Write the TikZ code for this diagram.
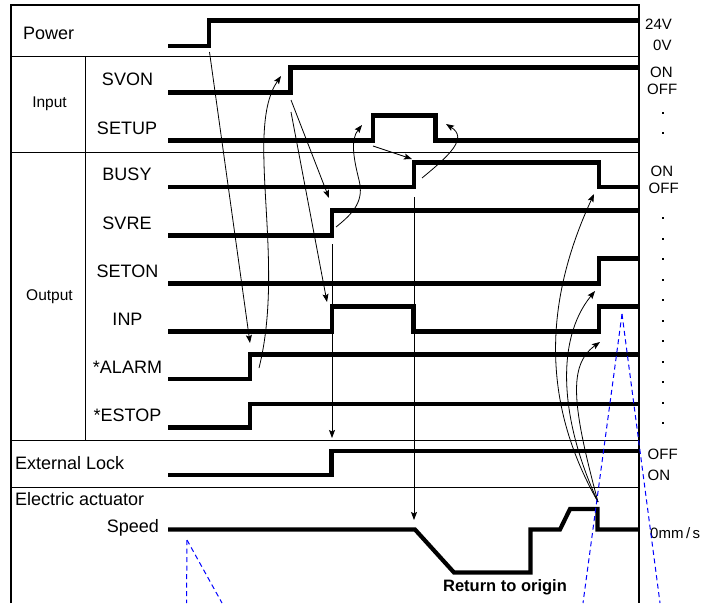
\documentclass[tikz,border=0pt]{standalone}
\usepackage{fontspec}
\setmainfont{Liberation Sans}
\usetikzlibrary{arrows.meta}
\tikzset{
  sig/.style={line width=4.2pt, line join=miter},
  frm/.style={line width=1pt},
  frmo/.style={line width=1.6pt},
  arr/.style={line width=0.8pt, -{Stealth[length=8pt,width=6pt,inset=1.5pt]}},
  thin/.style={line width=0.8pt},
  bluedash/.style={blue, line width=1pt, dash pattern=on 5pt off 3.5pt},
  lbl/.style={inner sep=0pt, font=\fontsize{18}{20}\selectfont},
  grp/.style={inner sep=0pt, font=\fontsize{15.5}{17}\selectfont},
  rlbl/.style={inner sep=0pt, anchor=west, font=\fontsize{15}{17}\selectfont},
  dotmark/.style={fill=black}
}
\begin{document}
\begin{tikzpicture}[x=1pt,y=-1pt]
\useasboundingbox (0,0) rectangle (714,603);
\fill[white] (0,0) rectangle (714,603);

% ---- signals ----
\draw[sig] (168,46) -- (209,46) -- (209,20.5) -- (639,20.5);
\draw[sig] (168,92.5) -- (290.5,92.5) -- (290.5,67.5) -- (639,67.5);
\draw[sig] (168,140.5) -- (373,140.5) -- (373,115.5) -- (435.5,115.5) -- (435.5,140.5) -- (639,140.5);
\draw[sig] (168,187) -- (414,187) -- (414,162.5) -- (599,162.5) -- (599,187) -- (639,187);
\draw[sig] (168,235.5) -- (332,235.5) -- (332,210.5) -- (639,210.5);
\draw[sig] (168,283.5) -- (599,283.5) -- (599,258.5) -- (639,258.5);
\draw[sig] (168,331.5) -- (332,331.5) -- (332,306.5) -- (413.5,306.5) -- (413.5,331.5) -- (599,331.5) -- (599,306.5) -- (639,306.5);
\draw[sig] (168,379) -- (250,379) -- (250,354.5) -- (639,354.5);
\draw[sig] (168,427.5) -- (250,427.5) -- (250,404) -- (639,404);
\draw[sig] (168,475) -- (331.5,475) -- (331.5,451) -- (639,451);
\draw[sig] (168,529.5) -- (415,529.5) -- (454,572.5) -- (530.5,572.5) -- (530.5,529.5) -- (560,529.5) -- (570,509) -- (597.5,509) -- (597.5,529.5) -- (639,529.5);

% ---- frame ----
\draw[frmo] (11,603) -- (11,5) -- (639,5);
\draw[line width=2pt] (639,4.2) -- (639,603);
\draw[frm] (11,56) -- (639,56);
\draw[frm] (11,152) -- (639,152);
\draw[frm] (11,440) -- (639,440);
\draw[frm] (11,487) -- (639,487);
\draw[frm] (85,56) -- (85,440);

% ---- left labels ----
\node[lbl, anchor=west] (power) at (23,33.5) {Power};
\node[grp] (input) at (49.5,104) {Input};
\node[grp] (output) at (49.5,297) {Output};
\node[lbl] (svon) at (127.5,79.5) {SVON};
\node[lbl] (setup) at (127,128) {SETUP};
\node[lbl] (busy) at (127,174) {BUSY};
\node[lbl] (svre) at (127,223) {SVRE};
\node[lbl] (seton) at (127.5,271) {SETON};
\node[lbl] (inp) at (127.5,319) {INP};
\node[lbl] (alarm) at (127.5,367) {*ALARM};
\node[lbl] (estop) at (127.5,415) {*ESTOP};
\node[lbl, anchor=west] (extlock) at (15,463.5) {External Lock};
\node[lbl, anchor=west] (elact) at (15,499) {Electric actuator};
\node[lbl, anchor=east] (speed) at (159,528) {Speed};
\node[inner sep=0pt, font=\fontsize{16.5}{18}\selectfont\bfseries] (rto) at (505,587) {Return to origin};

% ---- right labels ----
\node[rlbl] (v24) at (645,24) {24V};
\node[rlbl] (v0) at (653,45) {0V};
\node[rlbl] (on1) at (650,72) {ON};
\node[rlbl] (off1) at (647,89.5) {OFF};
\node[rlbl] (on2) at (650.5,171) {ON};
\node[rlbl] (off2) at (648.5,188.5) {OFF};
\node[rlbl] (off3) at (647.5,454) {OFF};
\node[rlbl] (on3) at (647.5,475) {ON};
\node[rlbl] (mms) at (650,533) {0mm\,/\,s};
\foreach \yy in {113,133} {\fill[dotmark] (662,\yy-1) rectangle (664,\yy+1);}
\foreach \k in {0,...,10} {\fill[dotmark] (662,218.3+20.5*\k-1.1) rectangle (664.2,218.3+20.5*\k+1.1);}

% ---- connector points ----
\coordinate (pw0) at (209.5,52);   \coordinate (al1) at (250,343);
\coordinate (al0) at (259,368);    \coordinate (sv1) at (281,76);
\coordinate (sva) at (291,100);    \coordinate (sre1) at (329,198);
\coordinate (svb) at (291,112);    \coordinate (inp1) at (327,302);
\coordinate (st0) at (373,146);    \coordinate (bs1) at (412,159);
\coordinate (sre0) at (336,227);   \coordinate (st1) at (362,125);
\coordinate (bs0) at (422,178);    \coordinate (st2) at (446,124);
\coordinate (sre2) at (332,244);   \coordinate (el1) at (332,438);
\coordinate (bs2) at (414,197);    \coordinate (sp1) at (414,520);
\coordinate (fan) at (598,502);
\coordinate (bsf) at (594,194);    \coordinate (sto) at (595,291);
\coordinate (inpr) at (600,342);

% ---- arrows ----
\draw[arr] (pw0) -- (al1);
\draw[arr] (al0) .. controls (286,260) and (244,130) .. (sv1);
\draw[arr] (sva) -- (sre1);
\draw[arr] (svb) -- (inp1);
\draw[arr] (st0) -- (bs1);
\draw[arr] (sre0) .. controls (355,212) and (364,200) .. (359,180) .. controls (354,160) and (350,140) .. (st1);
\draw[arr] (bs0) .. controls (450,155) and (468,138) .. (st2);
\draw[arr] (sre2) -- (el1);
\draw[arr] (bs2) -- (sp1);
\draw[arr] (fan) .. controls (540,400) and (545,300) .. (bsf);
\draw[arr] (fan) .. controls (560,420) and (555,340) .. (sto);
\draw[arr] (fan) .. controls (572,405) and (568,365) .. (inpr);

% ---- blue dashed ----
\coordinate (bp1) at (622,314);
\coordinate (bp1a) at (583,603);
\coordinate (bp1b) at (660,603);
\coordinate (bp2) at (187,540);
\coordinate (bp2a) at (186.5,603);
\coordinate (bp2b) at (222,603);
\draw[bluedash] (bp1) -- (bp1a);
\draw[bluedash] (bp1) -- (bp1b);
\draw[bluedash] (bp2) -- (bp2a);
\draw[bluedash] (bp2) -- (bp2b);
\end{tikzpicture}
\end{document}
